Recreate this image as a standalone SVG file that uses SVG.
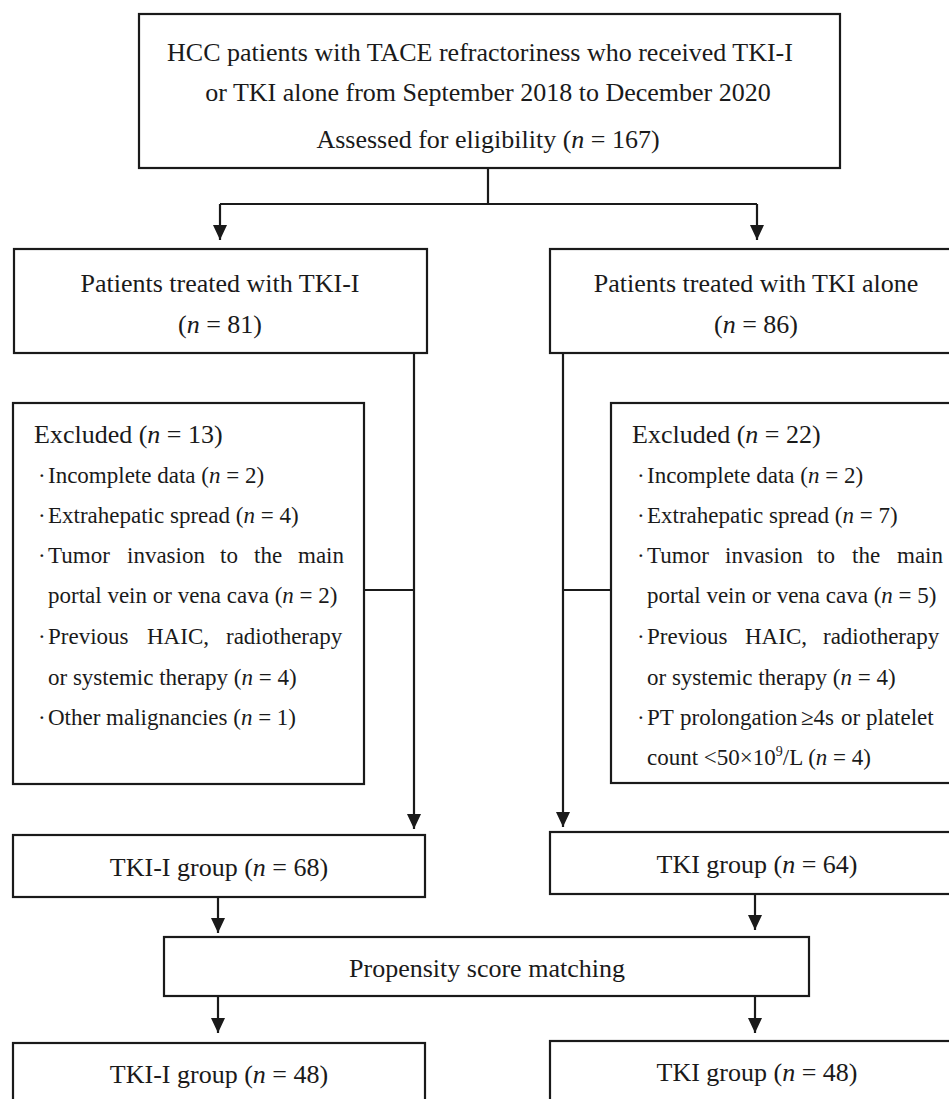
<svg xmlns="http://www.w3.org/2000/svg" width="949" height="1099" viewBox="0 0 949 1099">
<defs>
<style>
.box{fill:#fff;stroke:#1a1a1a;stroke-width:2.2}
.t{font-family:"Liberation Serif","Times New Roman",serif;font-size:26px;fill:#1a1a1a}
.c{text-anchor:middle}
.s{font-family:"Liberation Serif","Times New Roman",serif;font-size:23px;fill:#1a1a1a}
.i{font-style:italic}
.ln{fill:none;stroke:#1a1a1a;stroke-width:2.2}
</style>
<marker id="ah" markerUnits="userSpaceOnUse" markerWidth="15" markerHeight="14" refX="15" refY="7" orient="auto">
<path d="M0,0 L15,7 L0,14 Z" fill="#1a1a1a"/>
</marker>
</defs>
<rect width="949" height="1099" fill="#fff"/>

<g id="connectors">
<path class="ln" d="M488 168 V204 M220 204 H757"/>
<path class="ln" d="M220 204 V240" marker-end="url(#ah)"/>
<path class="ln" d="M757 204 V240" marker-end="url(#ah)"/>
<path class="ln" d="M414 353 V829" marker-end="url(#ah)"/>
<path class="ln" d="M364 590 H414"/>
<path class="ln" d="M563 353 V827" marker-end="url(#ah)"/>
<path class="ln" d="M611 590 H563"/>
<path class="ln" d="M218 897 V933" marker-end="url(#ah)"/>
<path class="ln" d="M755 894 V930" marker-end="url(#ah)"/>
<path class="ln" d="M218 996 V1033" marker-end="url(#ah)"/>
<path class="ln" d="M755 996 V1033" marker-end="url(#ah)"/>
</g>

<g id="n-assessed">
<rect class="box" x="139" y="14" width="701" height="154"/>
<text class="t c" x="480" y="61">HCC patients with TACE refractoriness who received TKI-I</text>
<text class="t c" x="488" y="101">or TKI alone from September 2018 to December 2020</text>
<text class="t c" x="488" y="148">Assessed for eligibility (<tspan class="i">n</tspan> = 167)</text>
</g>

<g id="n-tkii">
<rect class="box" x="14" y="249" width="413" height="104"/>
<text class="t c" x="220" y="292">Patients treated with TKI-I</text>
<text class="t c" x="220" y="333">(<tspan class="i">n</tspan> = 81)</text>
</g>

<g id="n-tki">
<rect class="box" x="550" y="249" width="420" height="104"/>
<text class="t c" x="756" y="292">Patients treated with TKI alone</text>
<text class="t c" x="756" y="333">(<tspan class="i">n</tspan> = 86)</text>
</g>

<g id="n-excl-left">
<rect class="box" x="13" y="403" width="351" height="381"/>
<text class="t" x="34" y="443">Excluded (<tspan class="i">n</tspan> = 13)</text>
<text class="s" x="38" y="483">·</text>
<text class="s" x="48" y="483">Incomplete data (<tspan class="i">n</tspan> = 2)</text>
<text class="s" x="38" y="523">·</text>
<text class="s" x="48" y="523">Extrahepatic spread (<tspan class="i">n</tspan> = 4)</text>
<text class="s" x="38" y="563">·</text>
<text class="s" y="563"><tspan x="48">Tumor</tspan><tspan x="127">invasion</tspan><tspan x="220">to</tspan><tspan x="254">the</tspan><tspan x="298">main</tspan></text>
<text class="s" x="48" y="603">portal vein or vena cava (<tspan class="i">n</tspan> = 2)</text>
<text class="s" x="38" y="644">·</text>
<text class="s" y="644"><tspan x="48">Previous</tspan><tspan x="147">HAIC,</tspan><tspan x="226">radiotherapy</tspan></text>
<text class="s" x="48" y="685">or systemic therapy (<tspan class="i">n</tspan> = 4)</text>
<text class="s" x="38" y="725">·</text>
<text class="s" x="48" y="725">Other malignancies (<tspan class="i">n</tspan> = 1)</text>
</g>

<g id="n-excl-right">
<rect class="box" x="611" y="403" width="360" height="380"/>
<text class="t" x="632" y="443">Excluded (<tspan class="i">n</tspan> = 22)</text>
<text class="s" x="637" y="483">·</text>
<text class="s" x="647" y="483">Incomplete data (<tspan class="i">n</tspan> = 2)</text>
<text class="s" x="637" y="523">·</text>
<text class="s" x="647" y="523">Extrahepatic spread (<tspan class="i">n</tspan> = 7)</text>
<text class="s" x="637" y="563">·</text>
<text class="s" y="563"><tspan x="647">Tumor</tspan><tspan x="725">invasion</tspan><tspan x="817">to</tspan><tspan x="852">the</tspan><tspan x="897">main</tspan></text>
<text class="s" x="647" y="603">portal vein or vena cava (<tspan class="i">n</tspan> = 5)</text>
<text class="s" x="637" y="644">·</text>
<text class="s" y="644"><tspan x="647">Previous</tspan><tspan x="745">HAIC,</tspan><tspan x="823">radiotherapy</tspan></text>
<text class="s" x="647" y="685">or systemic therapy (<tspan class="i">n</tspan> = 4)</text>
<text class="s" x="637" y="725">·</text>
<text class="s" y="725"><tspan x="647">PT</tspan><tspan x="680">prolongation</tspan><tspan x="801">≥4s</tspan><tspan x="841">or</tspan><tspan x="866">platelet</tspan></text>
<text class="s" x="647" y="765">count &lt;50×10<tspan font-size="14" dy="-9">9</tspan><tspan dy="9">/L (</tspan><tspan class="i">n</tspan> = 4)</text>
</g>

<g id="n-group-left">
<rect class="box" x="13" y="835" width="412" height="62"/>
<text class="t c" x="219" y="876">TKI-I group (<tspan class="i">n</tspan> = 68)</text>
</g>

<g id="n-group-right">
<rect class="box" x="550" y="832" width="420" height="62"/>
<text class="t c" x="757" y="873">TKI group (<tspan class="i">n</tspan> = 64)</text>
</g>

<g id="n-psm">
<rect class="box" x="164" y="937" width="645" height="59"/>
<text class="t c" x="487" y="977">Propensity score matching</text>
</g>

<g id="n-match-left">
<rect class="box" x="13" y="1043" width="412" height="80"/>
<text class="t c" x="219" y="1083">TKI-I group (<tspan class="i">n</tspan> = 48)</text>
</g>

<g id="n-match-right">
<rect class="box" x="550" y="1041" width="420" height="80"/>
<text class="t c" x="757" y="1081">TKI group (<tspan class="i">n</tspan> = 48)</text>
</g>
</svg>
